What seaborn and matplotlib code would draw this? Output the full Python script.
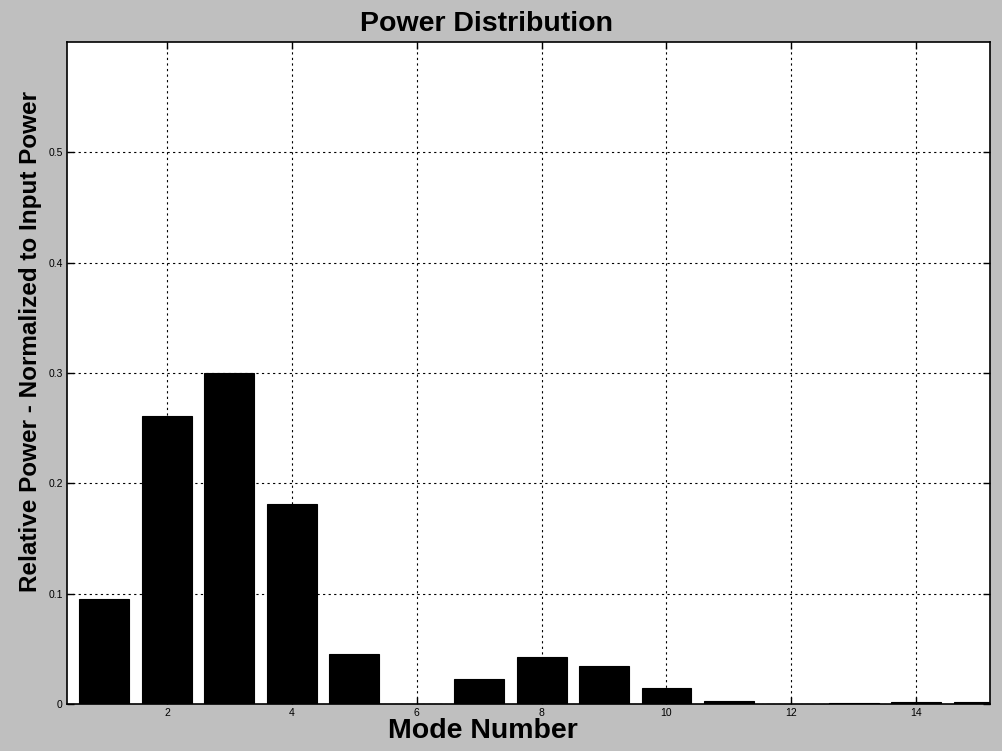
import matplotlib
matplotlib.use("Agg")
import matplotlib.pyplot as plt
import seaborn as sns
import pandas as pd

modes = list(range(1, 16))
power = [0.095, 0.261, 0.300, 0.181, 0.045, 0.0, 0.0226, 0.0425, 0.034,
         0.0148, 0.003, 0.0, 0.0012, 0.0015, 0.0015]
xticks = [2, 4, 6, 8, 10, 12, 14]
yticks = [0, 0.1, 0.2, 0.3, 0.4, 0.5]
ytick_labels = ["0", "0.1", "0.2", "0.3", "0.4", "0.5"]

sns.set_theme(style="white")
plt.rcParams['font.family'] = ['Liberation Sans', 'DejaVu Sans']
plt.rcParams['text.color'] = 'black'
plt.rcParams['axes.labelcolor'] = 'black'
plt.rcParams['xtick.color'] = 'black'
plt.rcParams['ytick.color'] = 'black'

df = pd.DataFrame({"Mode": modes, "Power": power})

fig = plt.figure(figsize=(10.03, 7.51), dpi=100)
fig.patch.set_facecolor("#bfbfbf")
ax = fig.add_axes([0.0668, 0.0626, 0.9202, 0.8814])
ax.set_facecolor("white")

sns.barplot(data=df, x="Mode", y="Power", native_scale=True, color="black",
            width=0.8, edgecolor="black", linewidth=0.8, ax=ax, zorder=3)

ax.set_xlim(0.4, 15.18)
ax.set_ylim(0, 0.6)
ax.set_xticks(xticks)
ax.set_xticklabels([str(t) for t in xticks], fontsize=7.5)
ax.set_yticks(yticks)
ax.set_yticklabels(ytick_labels, fontsize=7.5)
ax.tick_params(direction="in", length=5, width=1, color="black", top=True, right=True,
               bottom=True, left=True, pad=3)
ax.grid(True, color="black", linestyle=(0, (2, 3)), linewidth=0.8, zorder=0)
ax.set_axisbelow(True)
for s in ax.spines.values():
    s.set_color("black")
    s.set_linewidth(1.2)
    s.set_visible(True)

ax.set_xlabel("Mode Number", fontsize=20.5, fontweight="bold")
ax.xaxis.set_label_coords(0.4507, -0.0215)
ax.set_ylabel("Relative Power - Normalized to Input Power", fontsize=17.5,
              fontweight="bold")
ax.yaxis.set_label_coords(-0.027, 0.547)
ax.set_title("Power Distribution", fontsize=20.5, fontweight="bold", pad=8, x=0.4545)

fig.savefig("out.png", dpi=100, facecolor=fig.get_facecolor())
